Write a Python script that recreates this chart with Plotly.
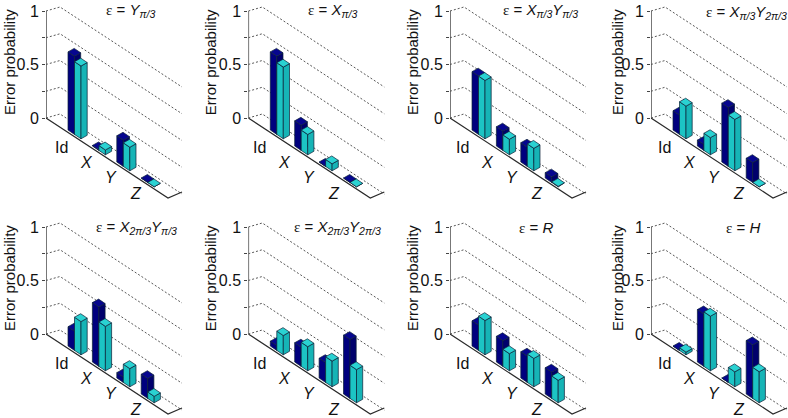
import plotly.graph_objects as go

# ---------- data ----------
categories = ["Id", "X", "Y", "Z"]
ticks = [0, 0.5, 1]
minor_ticks = [0.25, 0.75]
tick_labels = ["0", "0.5", "1"]
y_title = "Error probability"
panel_titles = [
    "Y<sub>π/3</sub>", "X<sub>π/3</sub>", "X<sub>π/3</sub>Y<sub>π/3</sub>", "X<sub>π/3</sub>Y<sub>2π/3</sub>",
    "X<sub>2π/3</sub>Y<sub>π/3</sub>", "X<sub>2π/3</sub>Y<sub>2π/3</sub>", "R", "H",
]
series_a = [
    [0.73, 0.005, 0.245, 0.0],
    [0.73, 0.235, 0.0, 0.0],
    [0.545, 0.18, 0.18, 0.05],
    [0.18, 0.055, 0.55, 0.185],
    [0.18, 0.555, 0.05, 0.185],
    [0.045, 0.18, 0.185, 0.55],
    [0.235, 0.24, 0.245, 0.245],
    [0.0, 0.49, 0.0, 0.5],
]
series_b = [
    [0.68, 0.045, 0.22, 0.0],
    [0.67, 0.19, 0.065, 0.0],
    [0.545, 0.145, 0.21, 0.005],
    [0.305, 0.16, 0.48, 0.0],
    [0.31, 0.415, 0.17, 0.06],
    [0.18, 0.225, 0.24, 0.31],
    [0.32, 0.16, 0.265, 0.21],
    [0.025, 0.51, 0.14, 0.29],
]

# ---------- view / layout ----------
W, H = 788, 418
axis_x = [46, 248.3, 450, 651]
row_y = [0, 216]
zero_y, unit = 118, 107
panel_w, panel_h = 137, 202
label_dx = [15, 11, 12, 13]
title_x = [130, 332, 540, 746, 136, 337, 536, 743]
title_y = [10, 10, 10, 12, 228, 228, 228, 228]
ytitle_dx = [37, 38, 38, 34]

U = (24.4, -16.0)     # one category step along the floor
D = (14.0, 5.0)       # full depth of the floor
BASE = (22.0, -12.0)  # first bar's left corner relative to origin
E = (6.5, -4.4)       # bar width along category
B = (6.2, 3.5)        # bar depth


def val_to_px(v):
    return v * unit


def bar_faces(c, s, v):
    lx = BASE[0] + U[0] * c + E[0] * s
    ly = BASE[1] + U[1] * c + E[1] * s
    h = val_to_px(v)
    L = (lx, ly)
    F = (lx + E[0], ly + E[1])
    R = (F[0] + B[0], F[1] + B[1])
    K = (lx + B[0], ly + B[1])
    up = lambda p: (p[0], p[1] + h)
    return (
        [L, F, up(F), up(L)],
        [F, R, up(R), up(F)],
        [up(L), up(F), up(R), up(K)],
    )


fig = go.Figure()
navy = ("#00007e", "#00006c", "#06068f")
cyan = ("#1cc4c4", "#16b4b6", "#2ad2d2")
edge = "#0b2036"
annotations = []

for i in range(8):
    col, row = i % 4, i // 4
    ax_n = "" if i == 0 else str(i + 1)
    xa, ya = "x" + ax_n, "y" + ax_n
    px0, py0 = axis_x[col], row_y[row]
    top = (zero_y) / unit
    bot = (zero_y - panel_h) / unit

    def add_line(pts, color="#444444", width=1.0, dash="solid"):
        fig.add_trace(go.Scatter(
            x=[p[0] for p in pts], y=[p[1] / unit for p in pts], xaxis=xa, yaxis=ya,
            mode="lines", line=dict(color=color, width=width, dash=dash),
            hoverinfo="skip", showlegend=False))

    # dotted wall grid
    for v in sorted(ticks + minor_ticks):
        h = val_to_px(v)
        add_line([(0, h), (D[0], D[1] - 1 + h), (U[0] * 5 + D[0], U[1] * 5 + D[1] + h - 1)],
                 color="#444444", width=0.9, dash="2px,2px")
    # floor and vertical axis
    add_line([(0, 0), (U[0] * 5, U[1] * 5), (U[0] * 5 + D[0], U[1] * 5 + 6)], color="#2a2a2a", width=1.2)
    add_line([(0, 0), (0, unit)], color="#555555", width=1.6)

    for c in range(4):
        for s, (vals, cols) in enumerate(((series_a[i], navy), (series_b[i], cyan))):
            for face, fc in zip(bar_faces(c, s, vals[c]), cols):
                pts = face + [face[0]]
                fig.add_trace(go.Scatter(
                    x=[p[0] for p in pts], y=[p[1] / unit for p in pts], xaxis=xa, yaxis=ya,
                    mode="lines", fill="toself", fillcolor=fc,
                    line=dict(color=edge, width=0.7),
                    hoverinfo="skip", showlegend=False))

    for c, name in enumerate(categories):
        annotations.append(dict(
            xref=xa, yref=ya, x=label_dx[col] + 25 * c, y=(zero_y - (147 + 15.4 * c)) / unit,
            xanchor="center", yanchor="middle",
            text=name if c == 0 else f"<i>{name}</i>", showarrow=False,
            font=dict(family="Liberation Sans", size=16, color="#111111")))

    annotations.append(dict(
        xref="paper", yref="paper", x=(px0 - ytitle_dx[col]) / W, y=1 - (py0 + 62) / H,
        xanchor="center", yanchor="middle",
        text=y_title, textangle=-90, showarrow=False,
        font=dict(family="Liberation Sans", size=15, color="#111111")))
    annotations.append(dict(
        xref="paper", yref="paper", x=title_x[i] / W, y=1 - title_y[i] / H,
        xanchor="center", yanchor="middle",
        text='<span style="font-family:Liberation Serif">ε</span> = <i>' + panel_titles[i] + "</i>",
        showarrow=False, font=dict(family="Liberation Sans", size=15, color="#111111")))

    xkey = "xaxis" + ax_n
    ykey = "yaxis" + ax_n
    fig.layout[xkey] = dict(
        domain=[px0 / W, (px0 + panel_w) / W], range=[0, panel_w], visible=False, fixedrange=True)
    fig.layout[ykey] = dict(
        domain=[1 - (py0 + panel_h) / H, 1 - py0 / H], range=[bot, top], anchor=xa,
        tickmode="array", tickvals=ticks, ticktext=tick_labels, ticks="outside", ticklen=3,
        tickcolor="#444444", showgrid=False, zeroline=False, showline=False,
        minor=dict(tickmode="array", tickvals=minor_ticks, ticks="outside", ticklen=3,
                   tickcolor="#444444", showgrid=False),
        tickfont=dict(family="Liberation Sans", size=16, color="#111111"), fixedrange=True)

fig.update_layout(
    width=W, height=H, margin=dict(l=0, r=0, t=0, b=0),
    paper_bgcolor="white", plot_bgcolor="rgba(0,0,0,0)",
    showlegend=False, annotations=annotations)

fig.write_html("out.html", config={"displayModeBar": False},
               post_script="document.body.style.margin='0';document.body.style.overflow='hidden';")
